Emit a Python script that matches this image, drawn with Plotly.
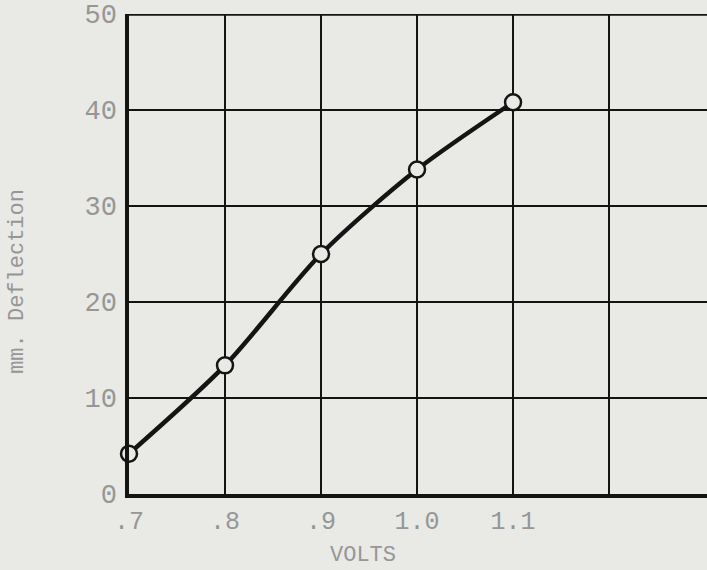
import plotly.graph_objects as go

# Measured deflection vs. applied voltage
volts = [0.7, 0.8, 0.9, 1.0, 1.1]
deflection_mm = [4.2, 13.4, 25.0, 33.8, 40.8]

# Axis ticks
x_tickvals = [0.7, 0.8, 0.9, 1.0, 1.1, 1.2]
x_ticktext = [".7", ".8", ".9", "1.0", "1.1", ""]
y_tickvals = [0, 10, 20, 30, 40, 50]
y_ticktext = ["0", "10", "20", "30", "40", "50"]

x_title = "VOLTS"
y_title = "mm. Deflection"

paper = "#e9e9e6"
ink = "#141414"
type_gray = "#969696"
mono = "Liberation Mono, Courier New, monospace"

fig = go.Figure()
fig.add_trace(go.Scatter(
    x=volts,
    y=deflection_mm,
    mode="lines+markers",
    line=dict(color=ink, width=4.5, shape="spline", smoothing=0.8),
    marker=dict(size=16, color=paper, line=dict(color=ink, width=2.5)),
    showlegend=False,
    cliponaxis=False,
))

# heavy top border of the graph paper
fig.add_shape(type="line", xref="paper", yref="y", x0=0, x1=1, y0=50, y1=50,
              line=dict(color=ink, width=3.5))

# typed axis captions
fig.add_annotation(text=y_title, xref="paper", yref="paper", x=-0.192, y=0.442,
                   textangle=-90, showarrow=False, xanchor="center", yanchor="middle",
                   font=dict(family=mono, size=22, color=type_gray))
fig.add_annotation(text=x_title, xref="paper", yref="paper", x=0.405, y=0,
                   yshift=-61, showarrow=False, xanchor="center", yanchor="middle",
                   font=dict(family=mono, size=22, color=type_gray))

fig.update_layout(
    width=707, height=570,
    margin=dict(l=129, r=0, t=14, b=76),
    paper_bgcolor=paper,
    plot_bgcolor=paper,
    font=dict(family=mono, color=type_gray),
)
fig.update_xaxes(
    range=[0.7, 1.302],
    tickvals=x_tickvals, ticktext=x_ticktext,
    tickfont=dict(size=25, color=type_gray),
    showgrid=True, gridcolor=ink, gridwidth=1.5,
    showline=True, linecolor=ink, linewidth=3.5,
    zeroline=False, ticks="", ticklabelstandoff=1,
)
fig.update_yaxes(
    range=[0, 50],
    tickvals=y_tickvals, ticktext=y_ticktext,
    tickfont=dict(size=27, color=type_gray),
    showgrid=True, gridcolor=ink, gridwidth=1.5,
    showline=True, linecolor=ink, linewidth=3.5,
    zeroline=False, ticks="", ticklabelstandoff=3,
)

fig.write_html("out.html")
